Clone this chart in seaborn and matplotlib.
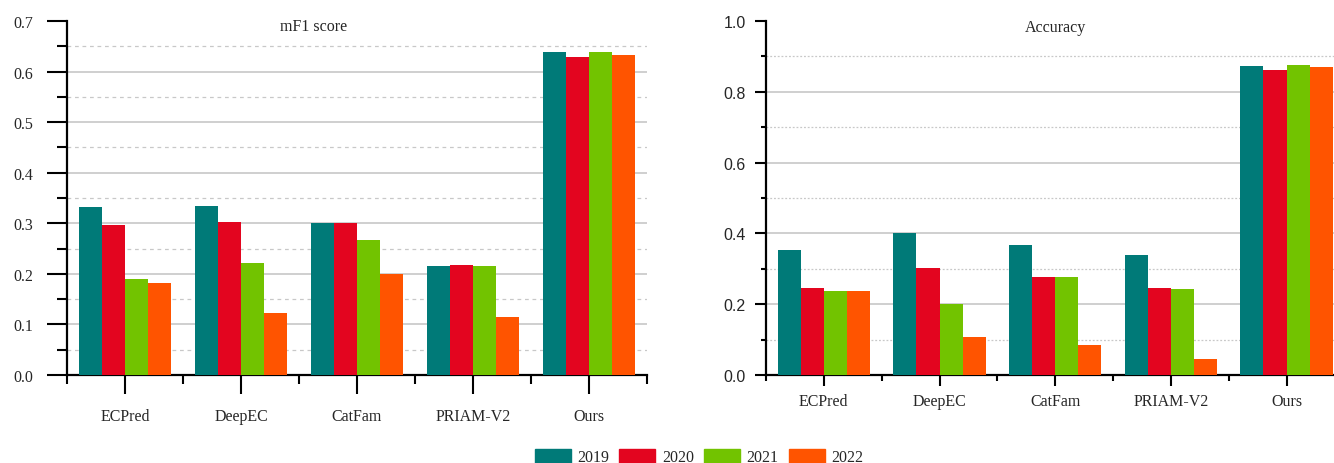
import pandas as pd
import numpy as np
import matplotlib
matplotlib.use("Agg")
import matplotlib.pyplot as plt
import matplotlib.transforms as mtransforms
import seaborn as sns
from matplotlib.ticker import MultipleLocator, FixedLocator, NullFormatter, FormatStrFormatter

methods = ["ECPred", "DeepEC", "CatFam", "PRIAM-V2", "Ours"]
years = ["2019", "2020", "2021", "2022"]
colors = ["#007A78", "#E3051F", "#72C300", "#FF5400"]

# mF1 score per method, one list per year
mf1_2019 = [0.332, 0.334, 0.300, 0.215, 0.639]
mf1_2020 = [0.296, 0.302, 0.300, 0.217, 0.629]
mf1_2021 = [0.190, 0.221, 0.267, 0.215, 0.639]
mf1_2022 = [0.182, 0.122, 0.200, 0.114, 0.633]

# accuracy per method, one list per year
acc_2019 = [0.353, 0.401, 0.367, 0.339, 0.873]
acc_2020 = [0.246, 0.302, 0.277, 0.246, 0.862]
acc_2021 = [0.237, 0.200, 0.277, 0.243, 0.876]
acc_2022 = [0.237, 0.107, 0.085, 0.045, 0.870]


def to_long(series):
    rows = []
    for year, vals in zip(years, series):
        for m, v in zip(methods, vals):
            rows.append({"method": m, "year": year, "value": v})
    return pd.DataFrame(rows)


mf1_df = to_long([mf1_2019, mf1_2020, mf1_2021, mf1_2022])
acc_df = to_long([acc_2019, acc_2020, acc_2021, acc_2022])

sns.set_style("white")
plt.rcParams["font.family"] = ["Liberation Serif", "DejaVu Serif"]

fig = plt.figure(figsize=(13.34, 4.64), dpi=100)
ax1 = fig.add_axes([0.0502, 0.1897, 0.4348, 0.763])
ax2 = fig.add_axes([0.5742, 0.1897, 0.4258, 0.763])

palette = dict(zip(years, colors))


def draw_panel(ax, df, ymax, major, minor, minor_ls, xmax, ytick_font,
               ymaj_len, ymin_len, ypad, xmaj_len, xmin_len, xpad):
    sns.barplot(data=df, x="method", y="value", hue="year", palette=palette,
                width=0.8, saturation=1, ax=ax, legend=False,
                edgecolor="none", linewidth=0, zorder=3)
    ax.set_xlim(-0.5, xmax)
    ax.set_ylim(0, ymax)
    ax.set_xlabel("")
    ax.set_ylabel("")
    ax.yaxis.set_major_locator(MultipleLocator(major))
    ax.yaxis.set_minor_locator(MultipleLocator(minor))
    ax.yaxis.set_major_formatter(FormatStrFormatter("%.1f"))
    # grid lines below the top of the axis (no line along the top edge)
    n_minor = int(round(ymax / minor))
    for i in range(1, n_minor):
        y = i * minor
        if i % int(round(major / minor)) == 0:
            ax.axhline(y, color="#cfcfcf", lw=1.4, ls="-", zorder=0)
        else:
            ax.axhline(y, color="#c8c8c8", lw=0.9, ls=minor_ls, zorder=0)
    for s in ["top", "right"]:
        ax.spines[s].set_visible(False)
    for s in ["left", "bottom"]:
        ax.spines[s].set_color("black")
        ax.spines[s].set_linewidth(1.6)
    ax.tick_params(axis="y", which="major", direction="out", length=ymaj_len, width=1.5,
                   color="black", labelsize=11.5, pad=ypad, left=True)
    ax.tick_params(axis="y", which="minor", direction="out", length=ymin_len, width=1.5,
                   color="black", left=True)
    for lab in ax.get_yticklabels():
        lab.set_family(ytick_font)
    # x ticks: long ticks at category centres, short ticks at group boundaries
    ax.xaxis.set_major_locator(FixedLocator(range(len(methods))))
    ax.set_xticklabels(methods)
    ax.xaxis.set_minor_locator(FixedLocator(np.arange(-0.5, len(methods), 1.0)))
    ax.xaxis.set_minor_formatter(NullFormatter())
    ax.tick_params(axis="x", which="major", direction="out", length=xmaj_len, width=1.5,
                   color="black", labelsize=11.5, pad=xpad, bottom=True)
    ax.tick_params(axis="x", which="minor", direction="out", length=xmin_len, width=1.5,
                   color="black", bottom=True)


draw_panel(ax1, mf1_df, 0.7, 0.1, 0.05, (0, (3, 3)), 4.5,
           ["Liberation Serif"], 14.4, 7.2, 10, 13.7, 6.5, 10)
draw_panel(ax2, acc_df, 1.0, 0.2, 0.1, (0, (1.5, 1.5)), 4.41,
           ["Liberation Sans Narrow", "Liberation Sans"], 8, 3.6, 6.5, 8, 4.3, 5)

t1 = mtransforms.blended_transform_factory(ax1.transData, ax1.transAxes)
ax1.text(1.63, 0.986, "mF1 score", transform=t1, ha="center", va="center", fontsize=11.5)
t2 = mtransforms.blended_transform_factory(ax2.transData, ax2.transAxes)
ax2.text(2.0, 0.983, "Accuracy", transform=t2, ha="center", va="center", fontsize=11.5)

handles = [plt.Rectangle((0, 0), 1, 1, color=c) for c in colors]
fig.legend(handles, years, loc="center", bbox_to_anchor=(0.524, 0.013), ncol=4,
           frameon=False, fontsize=11.5, handlelength=2.25, handleheight=0.95,
           handletextpad=0.4, columnspacing=0.65)

fig.savefig("out.png", dpi=100)
